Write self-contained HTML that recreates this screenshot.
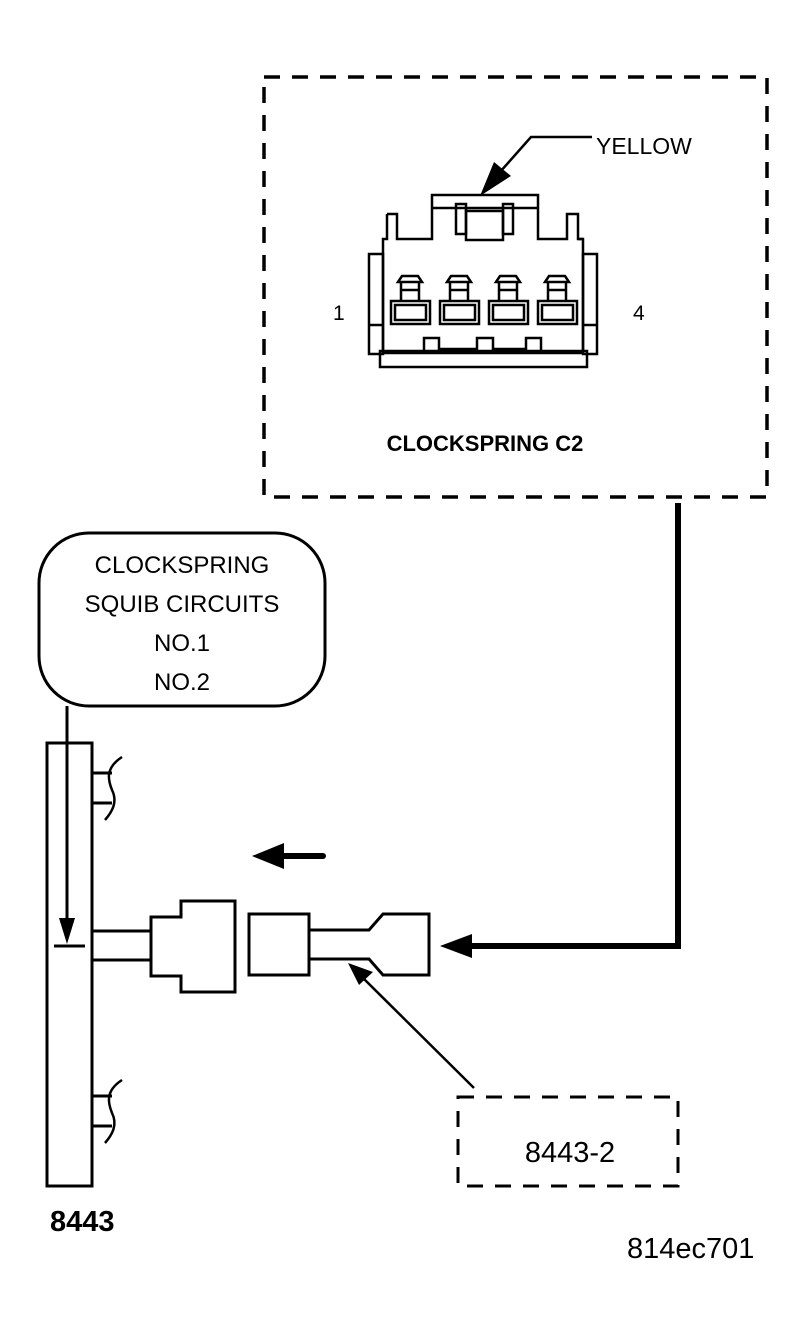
<!DOCTYPE html>
<html><head><meta charset="utf-8"><style>
html,body{margin:0;padding:0;background:#fff;}
svg{display:block;}
text{font-family:"Liberation Sans",Arial,sans-serif;fill:#000;}
</style></head><body>
<svg width="806" height="1335" viewBox="0 0 806 1335" xmlns="http://www.w3.org/2000/svg">
<g fill="none" stroke="#000">
<rect x="264" y="77" width="503" height="420" stroke-width="3.5" stroke-dasharray="16,12"/>
<g stroke-width="2.5">
<path d="M387,214 H397 V239 H432 V195 H538 V239 H567 V214 H578 V239 H583 V351"/>
<path d="M383,351 V239 H387 V214"/>
<line x1="578" y1="239" x2="583" y2="239"/>
<line x1="432" y1="208" x2="538" y2="208"/>
<rect x="456" y="204" width="10" height="30"/>
<rect x="503" y="204" width="10" height="30"/>
<path d="M466,211 H503 V240 H466 Z"/>
<rect x="369" y="254" width="14" height="100"/>
<rect x="583" y="254" width="14" height="100"/>
<line x1="369" y1="325" x2="383" y2="325"/>
<line x1="583" y1="325" x2="597" y2="325"/>
<rect x="380" y="351" width="207" height="16"/>
<path d="M383,353 H583"/>
<path d="M424,351 V338 H439 V349 H477 V338 H493 V349 H526 V338 H541 V351"/>
</g>
<g stroke-width="2.5">
<rect x="391" y="301" width="39" height="23"/><rect x="395" y="305" width="31" height="15"/>
<rect x="440" y="301" width="39" height="23"/><rect x="444" y="305" width="31" height="15"/>
<rect x="489" y="301" width="39" height="23"/><rect x="493" y="305" width="31" height="15"/>
<rect x="538" y="301" width="39" height="23"/><rect x="542" y="305" width="31" height="15"/>
<path d="M401,301 V282 H419 V301 M401,290 H419 M398,282 L402,276 H418 L422,282 Z"/>
<path d="M450,301 V282 H468 V301 M450,290 H468 M447,282 L451,276 H467 L471,282 Z"/>
<path d="M499,301 V282 H517 V301 M499,290 H517 M496,282 L500,276 H516 L520,282 Z"/>
<path d="M548,301 V282 H566 V301 M548,290 H566 M545,282 L549,276 H565 L569,282 Z"/>
</g>
<path d="M592,137 H531 L500,172" stroke-width="2.5"/>
<rect x="39" y="533" width="286" height="173" rx="50" ry="50" stroke-width="3"/>
<line x1="67" y1="706" x2="67" y2="925" stroke-width="3"/>
<line x1="54" y1="946" x2="85" y2="946" stroke-width="3"/>
<rect x="47" y="743" width="45" height="443" stroke-width="3"/>
<path d="M92,773 H112 M92,803 H112" stroke-width="3"/>
<path d="M122,757 C105,768 108,780 112,790 C118,802 112,812 105,820" stroke-width="2.5"/>
<path d="M92,1096 H112 M92,1126 H112" stroke-width="3"/>
<path d="M122,1080 C105,1091 108,1103 112,1113 C118,1125 112,1135 105,1143" stroke-width="2.5"/>
<path d="M92,931 H151 M92,960 H151" stroke-width="3"/>
<path d="M151,917 H181 V901 H235 V992 H181 V976 H151 Z" stroke-width="3"/>
<rect x="249" y="914" width="60" height="61" stroke-width="3"/>
<path d="M309,930 H369 L383,914 H429 V975 H383 L369,959 H309" stroke-width="3"/>
<path d="M470,946 H678 V503" stroke-width="6"/>
<line x1="283" y1="856" x2="323" y2="856" stroke-width="6" stroke-linecap="round"/>
<line x1="474" y1="1088" x2="360" y2="975" stroke-width="2.5"/>
<rect x="458" y="1097" width="220" height="89" stroke-width="3" stroke-dasharray="16,12"/>
</g>
<g fill="#000">
<polygon points="480,196 494,162 511,176"/>
<polygon points="440,946 472,934 472,958"/>
<polygon points="252,856 284,843 284,869"/>
<polygon points="67,944 59,918 75,918"/>
<polygon points="348,963 373,972 359,985"/>
</g>
<text x="596" y="154" font-size="23">YELLOW</text>
<text x="333" y="320" font-size="21">1</text>
<text x="633" y="320" font-size="21">4</text>
<text x="485" y="451" font-size="22" font-weight="bold" text-anchor="middle">CLOCKSPRING C2</text>
<text x="182" y="573" font-size="24" text-anchor="middle">CLOCKSPRING</text>
<text x="182" y="612" font-size="24" text-anchor="middle">SQUIB CIRCUITS</text>
<text x="182" y="651" font-size="24" text-anchor="middle">NO.1</text>
<text x="182" y="690" font-size="24" text-anchor="middle">NO.2</text>
<text x="570" y="1162" font-size="29" text-anchor="middle">8443-2</text>
<text x="50" y="1231" font-size="29" font-weight="bold">8443</text>
<text x="627" y="1258" font-size="29">814ec701</text>
</svg>
</body></html>
